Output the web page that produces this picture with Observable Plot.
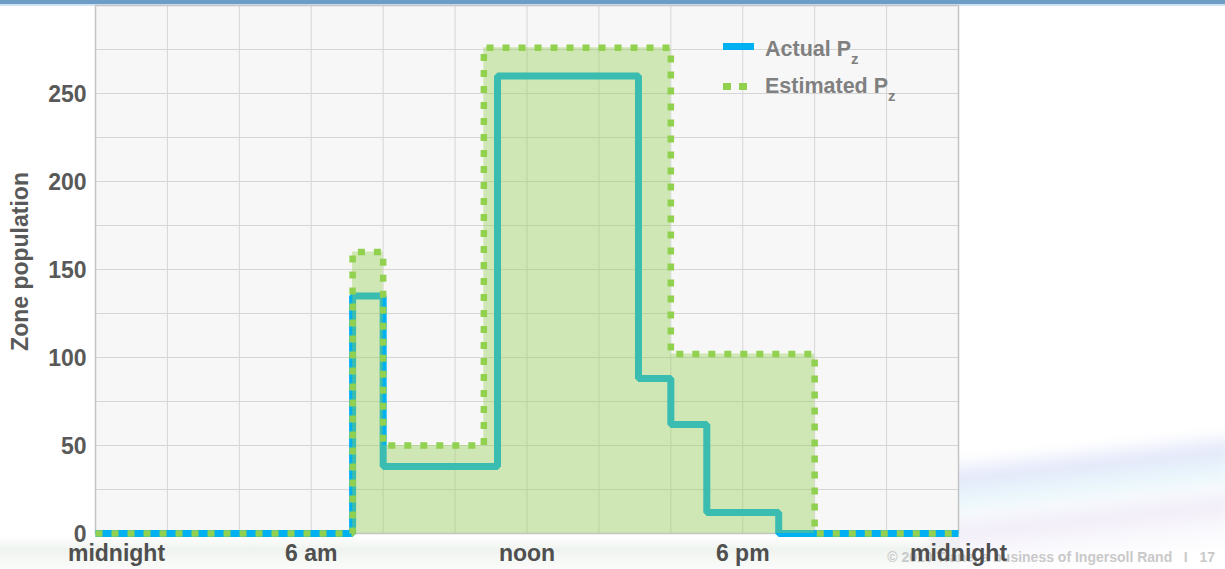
<!DOCTYPE html>
<html>
<head>
<meta charset="utf-8">
<script src="https://cdn.jsdelivr.net/npm/d3@7"></script>
<script src="https://cdn.jsdelivr.net/npm/@observablehq/plot@0.6"></script>
<style>
  html, body { margin: 0; padding: 0; background: #ffffff; }
  body { width: 1225px; height: 569px; position: relative; overflow: hidden;
         font-family: "Liberation Sans", Arial, sans-serif; }
  #topband { position: absolute; left: 0; top: 0; width: 1225px; height: 4px; background: #6d9cc7; }
  #topband2 { position: absolute; left: 0; top: 4px; width: 1225px; height: 2px; background: #cfe2f1; }
  #swoosh { position: absolute; left: 930px; top: 420px; width: 300px; height: 150px;
            background: linear-gradient(174deg, rgba(255,255,255,0) 22%, rgba(205,212,245,0.55) 34%,
                        rgba(222,242,250,0.7) 44%, rgba(240,246,252,0.6) 54%, rgba(232,222,242,0.55) 64%,
                        rgba(240,240,250,0.4) 76%, rgba(255,255,255,0) 90%);
            filter: blur(5px); }
  #floor { position: absolute; left: 0; top: 536px; width: 960px; height: 33px;
           background: linear-gradient(to bottom, rgba(228,234,228,0.0), rgba(226,234,226,0.55) 40%, rgba(240,244,240,0.3)); }
  #chart { position: absolute; left: 0; top: 0; }
  .legend-row { position: absolute; color: #808080; font-weight: bold; font-size: 21.5px; line-height: 1; white-space: nowrap; }
  .legend-row sub { font-size: 15px; vertical-align: -8px; line-height: 0; }
  #sw-actual { position: absolute; left: 723px; top: 43px; width: 31px; height: 7px; background: #00b0f0; }
  .sw-dot { position: absolute; top: 83px; width: 8px; height: 7px; background: #92d050; }
  #footer { position: absolute; right: 10px; top: 549px; color: #c9c9c9; font-weight: bold; font-size: 14px; white-space: pre; }
</style>
</head>
<body>
<div id="topband"></div>
<div id="topband2"></div>
<div id="swoosh"></div>
<div id="floor"></div>
<div id="footer">© 2010 Trane, a business of Ingersoll Rand   I   17</div>
<div id="chart"></div>
<div id="sw-actual"></div>
<div class="legend-row" style="left:765px; top:39px;">Actual P<sub>z</sub></div>
<div class="sw-dot" style="left:723px;"></div>
<div class="sw-dot" style="left:739px;"></div>
<div class="legend-row" style="left:765px; top:76px;">Estimated P<sub>z</sub></div>
<script>
// Hour of day at which each zone population level begins (step-after)
const actualHours = [0, 7.15, 8, 11.18, 15.1, 16, 17, 19, 24];
const actualPop   = [0, 135, 38, 260, 88, 62, 12, 0, 0];

const estimatedHours = [0, 7.15, 8, 10.8, 16, 20, 24];
const estimatedPop   = [0, 160, 50, 276, 102, 0, 0];

// Axis ticks
const xTickHours  = [0, 6, 12, 18, 24];
const xTickLabels = ["midnight", "6 am", "noon", "6 pm", "midnight"];
const yTickValues = [0, 50, 100, 150, 200, 250];

const actual = actualHours.map((h, i) => ({hour: h, pop: actualPop[i]}));
const estimated = estimatedHours.map((h, i) => ({hour: h, pop: estimatedPop[i]}));
const xTicks = xTickHours.map((h, i) => ({hour: h, label: xTickLabels[i]}));

const BLUE = "#00b0f0";
const GREEN = "#92d050";
const FONT = "Liberation Sans, Arial, sans-serif";

const chart = Plot.plot({
  width: 1225,
  height: 569,
  marginLeft: 95,
  marginRight: 267,
  marginTop: 5,
  marginBottom: 36,
  style: {background: "transparent", fontFamily: FONT, overflow: "visible"},
  x: {domain: [0, 24], axis: null},
  y: {domain: [0, 300], axis: null},
  marks: [
    Plot.frame({fill: "#f7f7f7", stroke: null}),
    Plot.gridX(d3.range(0, 25, 2), {stroke: "#d6d6d6", strokeOpacity: 1}),
    Plot.gridY(d3.range(0, 301, 25), {stroke: "#d6d6d6", strokeOpacity: 1}),
    Plot.frame({stroke: "#c4c4c4", strokeWidth: 1.5}),
    // actual population
    Plot.line(actual, {x: "hour", y: "pop", curve: "step-after", stroke: BLUE,
      strokeWidth: 7, strokeLinejoin: "miter", strokeLinecap: "butt"}),
    // shaded area under the estimate
    Plot.areaY(estimated, {x: "hour", y: "pop", curve: "step-after", fill: GREEN, fillOpacity: 0.4}),
    // estimated population
    Plot.line(estimated, {x: "hour", y: "pop", curve: "step-after", stroke: GREEN,
      strokeWidth: 6.5, strokeDasharray: "7,9", strokeLinejoin: "miter", strokeLinecap: "butt"}),
    // y tick labels
    Plot.text(yTickValues, {y: d => d, text: d => String(d), frameAnchor: "left", textAnchor: "end",
      dx: -9, dy: 1, fontSize: 23, fontWeight: "bold", fill: "#595959", fontFamily: FONT}),
    // x tick labels
    Plot.text(xTicks, {x: "hour", text: "label", frameAnchor: "bottom", lineAnchor: "middle", dy: 20,
      fontSize: 23, fontWeight: "bold", fill: "#4f4f4f", fontFamily: FONT}),
    // y axis title
    Plot.text(["Zone population"], {text: d => d, frameAnchor: "left", textAnchor: "middle",
      dx: -75, dy: -8, rotate: -90, fontSize: 23, fontWeight: "bold", fill: "#595959", fontFamily: FONT})
  ]
});

document.getElementById("chart").appendChild(chart);

// nudge the first "midnight" label right so it stays clear of the plot's left edge
const firstMidnight = Array.from(chart.querySelectorAll("text")).find(t => t.textContent === "midnight");
if (firstMidnight) {
  const prev = firstMidnight.getAttribute("transform") || "";
  firstMidnight.setAttribute("transform", prev + " translate(21,0)");
}
</script>
</body>
</html>
